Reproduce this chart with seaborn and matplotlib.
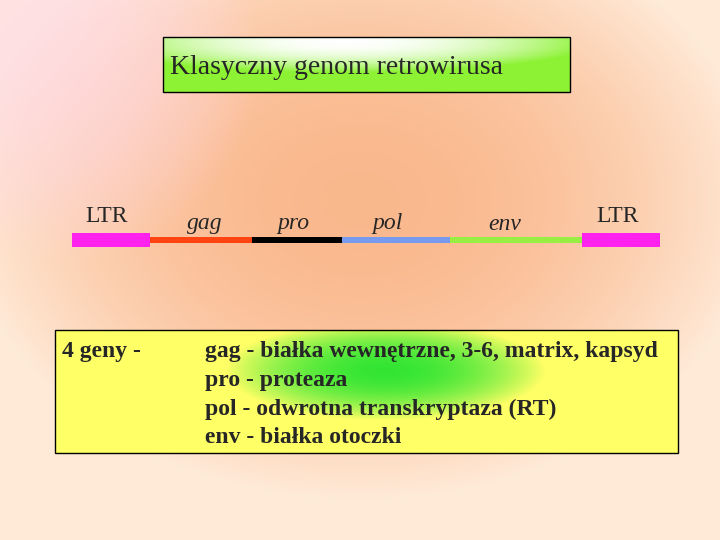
import numpy as np
import pandas as pd
import matplotlib
matplotlib.use("Agg")
import matplotlib.pyplot as plt
import seaborn as sns

# genome segments (start, end in slide pixels)
segments = ["LTR", "gag", "pro", "pol", "env", "LTR2"]
starts = [72, 150, 252, 342, 450, 582]
ends = [150, 252, 342, 450, 582, 660]
seg_colors = ["#ff22ee", "#ff4411", "#000000", "#7799ee", "#99ee44", "#ff22ee"]
seg_width = [14, 6, 6, 6, 6, 14]

labels = ["LTR", "gag", "pro", "pol", "env", "LTR"]
label_x = [107, 205, 293, 388, 505, 618]
label_y = [216, 224, 224, 224, 224, 216]
label_italic = [False, True, True, True, True, False]

title = "Klasyczny genom retrowirusa"
gene_lines = ["gag - białka wewnętrzne, 3-6, matrix, kapsyd",
              "pro - proteaza",
              "pol - odwrotna transkryptaza (RT)",
              "env - białka otoczki"]

sns.set_theme(style="white")
plt.rcParams['font.family'] = ['Liberation Serif', 'DejaVu Serif']

fig = plt.figure(figsize=(7.2, 5.4), dpi=100)
ax = fig.add_axes([0, 0, 1, 1])
ax.set_xlim(0, 720)
ax.set_ylim(540, 0)
ax.axis("off")

# background gradient
yy, xx = np.mgrid[0:540, 0:720]
base = np.array([0.98, 0.72, 0.55])
light = np.array([1.0, 0.92, 0.85])
pink = np.array([1.0, 0.85, 0.92])
t = np.clip(((xx - 360) ** 2 / 400 ** 2 + (yy - 200) ** 2 / 300 ** 2), 0, 1)[..., None]
img = base * (1 - t) + light * t
pk = np.clip(1 - ((xx - 60) ** 2 + (yy - 60) ** 2) / 200 ** 2, 0, 1)[..., None]
img = img * (1 - pk * 0.6) + pink * pk * 0.6
ax.imshow(img, extent=[0, 720, 540, 0], zorder=0)

# title box gradient
ty, tx = np.mgrid[0:55, 0:407]
g = np.clip(1 - ((tx - 180) ** 2 / 250 ** 2 + (ty - 5) ** 2 / 30 ** 2), 0, 1)[..., None]
timg = np.array([0.55, 0.95, 0.2]) * (1 - g) + np.array([1, 1, 1]) * g
ax.imshow(timg, extent=[163, 570, 92, 37], zorder=1)
ax.add_patch(plt.Rectangle((163, 37), 407, 55, fill=False, ec="black", lw=1, zorder=2))
ax.text(170, 68, title, fontsize=20, va="center", zorder=3)

# genome segments
df = pd.DataFrame({"seg": segments, "start": starts, "end": ends})
for i, r in df.iterrows():
    ax.hlines(240, r.start, r.end, color=seg_colors[i], lw=seg_width[i] * 0.72, zorder=3)
for lab, x, y, it in zip(labels, label_x, label_y, label_italic):
    ax.text(x, y, lab, fontsize=17, ha="center", va="center",
            style="italic" if it else "normal", zorder=3)

# bottom box
by, bx = np.mgrid[0:123, 0:623]
gb = np.clip(1 - ((bx - 330) ** 2 / 160 ** 2 + (by - 40) ** 2 / 50 ** 2), 0, 1)[..., None]
bimg = np.array([1, 1, 0.4]) * (1 - gb) + np.array([0.2, 0.9, 0.2]) * gb
ax.imshow(bimg, extent=[55, 678, 453, 330], zorder=1)
ax.add_patch(plt.Rectangle((55, 330), 623, 123, fill=False, ec="black", lw=1, zorder=2))
ax.text(62, 352, "4 geny -", fontsize=17, fontweight="bold", va="center", zorder=3)
for k, line in enumerate(gene_lines):
    ax.text(205, 352 + k * 28.5, line, fontsize=17, fontweight="bold", va="center", zorder=3)

fig.savefig("out.png", dpi=100)
